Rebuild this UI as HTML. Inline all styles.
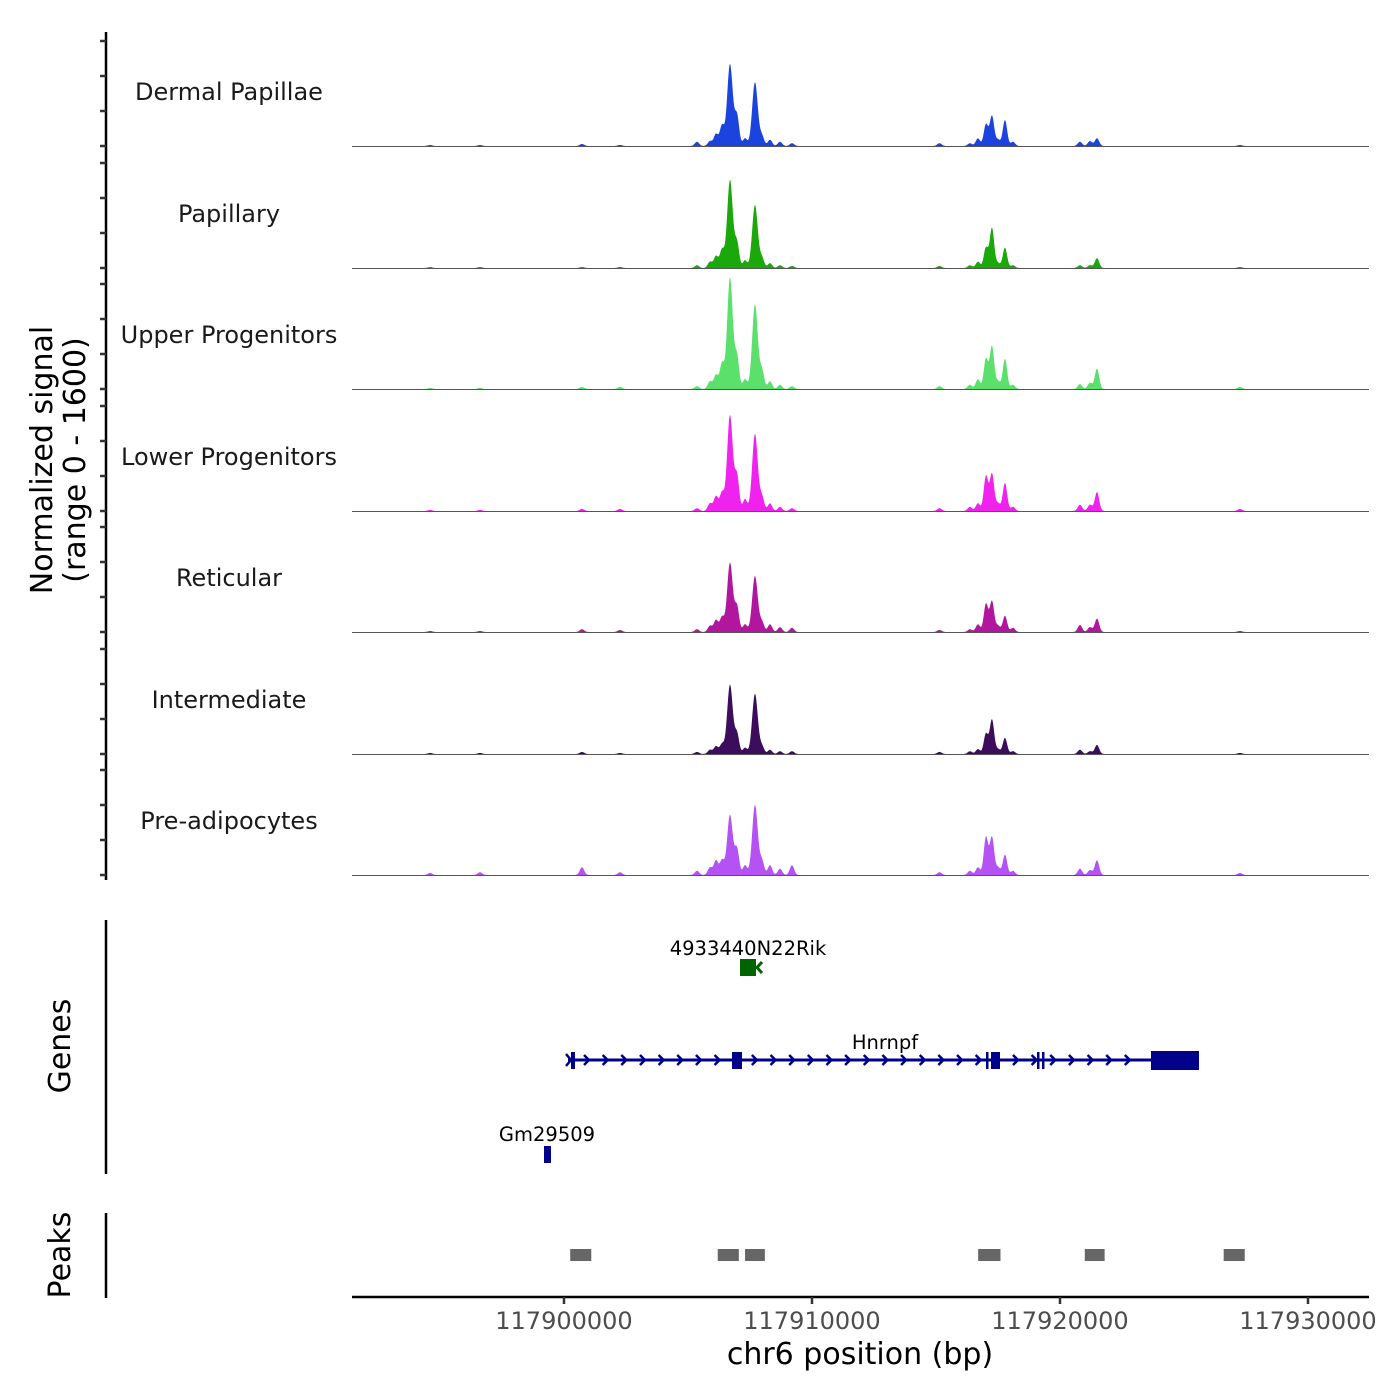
<!DOCTYPE html>
<html><head><meta charset="utf-8"><style>
html,body{margin:0;padding:0;background:#fff}
svg{display:block;font-family:"DejaVu Sans","Liberation Sans",sans-serif}
</style></head><body>
<svg id="chart" width="1400" height="1400" viewBox="0 0 1400 1400">
<g id="tracks"></g>
<g id="axes"></g>
<g id="genes"></g>
<g id="peaks"></g>
</svg>
<script>
const trackNames = ["Dermal Papillae","Papillary","Upper Progenitors","Lower Progenitors","Reticular","Intermediate","Pre-adipocytes"];
const trackColors = ["#1a44dd","#1aa80a","#5ce06c","#f022ee","#b2169e","#3b0d5c","#b552f4"];
const peakPos = [117905363,117905887,117906129,117906371,117906693,117906975,117907300,117907701,117907983,117908306,117908709,117909193,
 117916370,117916692,117917015,117917257,117917500,117917781,117918104,
 117920805,117921208,117921491,117900726,117896613,117902258,117927256,117894600,117915140];
const sigDP  = [60,70,170,290,1170,430,110,910,140,90,60,40, 40,110,310,430,90,370,60, 60,70,110, 30,15,15,15,15,40];
const sigPap = [40,90,170,260,1260,360,110,900,140,70,40,30, 40,90,290,570,70,290,40, 40,40,140, 15,15,15,15,15,30];
const sigUP  = [40,110,200,360,1590,460,140,1210,260,110,60,40, 60,140,430,610,110,430,60, 70,90,290, 30,15,30,30,15,40];
const sigLP  = [40,110,210,260,1370,500,170,1100,200,110,60,40, 60,110,500,530,110,400,60, 90,90,270, 30,15,30,30,15,40];
const sigRet = [40,90,170,210,990,360,110,800,140,110,70,60, 40,110,400,440,90,230,60, 100,70,190, 40,15,30,15,15,30];
const sigInt = [30,60,110,140,990,290,90,860,110,60,40,40, 40,70,290,490,70,230,40, 60,40,130, 30,15,15,15,15,30];
const sigPre = [60,110,210,210,860,370,140,1000,200,140,90,140, 60,110,540,540,110,290,60, 90,70,210, 110,40,40,30,30,40];
const xTicks = [117900000,117910000,117920000,117930000];
const peakStarts = [117900250,117906200,117907300,117916700,117921000,117926600];
const peakEnds   = [117901100,117907050,117908100,117917600,117921800,117927450];

const NS="http://www.w3.org/2000/svg";
function mk(tag,attrs,parent){const e=document.createElementNS(NS,tag);for(const k in attrs)e.setAttribute(k,attrs[k]);parent.appendChild(e);return e;}
const X0=352,X1=1369,BP0=117891452,BP1=117932460;
const xs=bp=>X0+(bp-BP0)/(BP1-BP0)*(X1-X0);
const ys=v=>v*112/1600;
const baselines=[146,268,389,511,632,754,875];
const sigs=[sigDP,sigPap,sigUP,sigLP,sigRet,sigInt,sigPre];
const tg=document.getElementById('tracks');
sigs.forEach((sig,t)=>{
  const b=baselines[t];
  let d=`M${X0},${b}`;
  for(let px=X0;px<=X1;px+=0.5){
    let v=0;
    peakPos.forEach((p,i)=>{const c=xs(p);const s=(sig[i]>700)?2.8:2.2;const dx=(px-c)/s;v+=sig[i]*Math.exp(-0.5*dx*dx);});
    d+=` L${px},${(b-ys(v)).toFixed(2)}`;
  }
  d+=` L${X1},${b} Z`;
  const p=mk('path',{d:d,fill:trackColors[t]},tg);
  
  
  const l=mk('line',{x1:X0,x2:X1,y1:b+0.5,y2:b+0.5,stroke:'#555','stroke-width':1},tg);
  
  
  const tx=mk('text',{x:229,y:b-46,'text-anchor':'middle','font-size':24,fill:'#1a1a1a'},tg);
  tx.textContent=trackNames[t];
  
  
});
const ax=document.getElementById('axes');
mk('line',{x1:106,x2:106,y1:32,y2:880,stroke:'#000','stroke-width':2.5},ax);
baselines.forEach(b=>{[0,500,1000,1500].forEach(v=>{mk('line',{x1:100,x2:106,y1:b-ys(v),y2:b-ys(v),stroke:'#333','stroke-width':2.5},ax);});});
let t1=mk('text',{transform:'translate(52,460) rotate(-90)','text-anchor':'middle','font-size':30,fill:'#000'},ax);t1.textContent='Normalized signal';


let t2=mk('text',{transform:'translate(85,460) rotate(-90)','text-anchor':'middle','font-size':30,fill:'#000'},ax);t2.textContent='(range 0 - 1600)';


mk('line',{x1:106,x2:106,y1:920,y2:1174,stroke:'#000','stroke-width':2.5},ax);
mk('line',{x1:106,x2:106,y1:1213,y2:1298,stroke:'#000','stroke-width':2.5},ax);
let g1=mk('text',{transform:'translate(70,1046) rotate(-90)','text-anchor':'middle','font-size':30,fill:'#000'},ax);g1.textContent='Genes';


let g2=mk('text',{transform:'translate(70,1255) rotate(-90)','text-anchor':'middle','font-size':30,fill:'#000'},ax);g2.textContent='Peaks';


mk('line',{x1:X0,x2:X1,y1:1297,y2:1297,stroke:'#000','stroke-width':2.5},ax);
xTicks.forEach(v=>{
  mk('line',{x1:xs(v),x2:xs(v),y1:1297,y2:1304,stroke:'#333','stroke-width':2.5},ax);
  const tt=mk('text',{x:xs(v),y:1329,'text-anchor':'middle','font-size':24,fill:'#4d4d4d'},ax);
  tt.textContent=v;
  
  
});
let xt=mk('text',{x:860,y:1364,'text-anchor':'middle','font-size':30,fill:'#000'},ax);xt.textContent='chr6 position (bp)';



const gg=document.getElementById('genes');
const navy='#00008b',grn='#006400';
mk('rect',{x:740,y:959,width:16,height:17,fill:grn},gg);
mk('path',{d:'M762,962 L757,967.5 L762,973',stroke:grn,'stroke-width':3,fill:'none'},gg);
let gl=mk('text',{x:748,y:955,'text-anchor':'middle','font-size':19.5,fill:'#000'},gg);gl.textContent='4933440N22Rik';
mk('line',{x1:568,x2:1198,y1:1060,y2:1060,stroke:navy,'stroke-width':3},gg);
for(let x=587;x<1145;x+=18.65){mk('path',{d:`M${x-3},${1055} L${x+2},1060 L${x-3},1065`,stroke:navy,'stroke-width':2.5,fill:'none'},gg);}
mk('path',{d:'M566,1054 L571,1060 L566,1066',stroke:navy,'stroke-width':2.5,fill:'none'},gg);
[[571,4],[732,10],[986,2.5],[991,9],[1037,2.5],[1042,2.5]].forEach(([x,w])=>mk('rect',{x:x,y:1052,width:w,height:17,fill:navy},gg));
mk('rect',{x:1151,y:1051,width:48,height:19,fill:navy},gg);
let hl=mk('text',{x:885,y:1049,'text-anchor':'middle','font-size':19.5,fill:'#000'},gg);hl.textContent='Hnrnpf';
mk('rect',{x:544,y:1146,width:7,height:17,fill:navy},gg);
let ml=mk('text',{x:547,y:1141,'text-anchor':'middle','font-size':19.5,fill:'#000'},gg);ml.textContent='Gm29509';

const pg=document.getElementById('peaks');
peakStarts.forEach((s,i)=>{
  const r=mk('rect',{x:xs(s),y:1249,width:xs(peakEnds[i])-xs(s),height:12,fill:'#666'},pg);
  
  
});
</script>
</body></html>
